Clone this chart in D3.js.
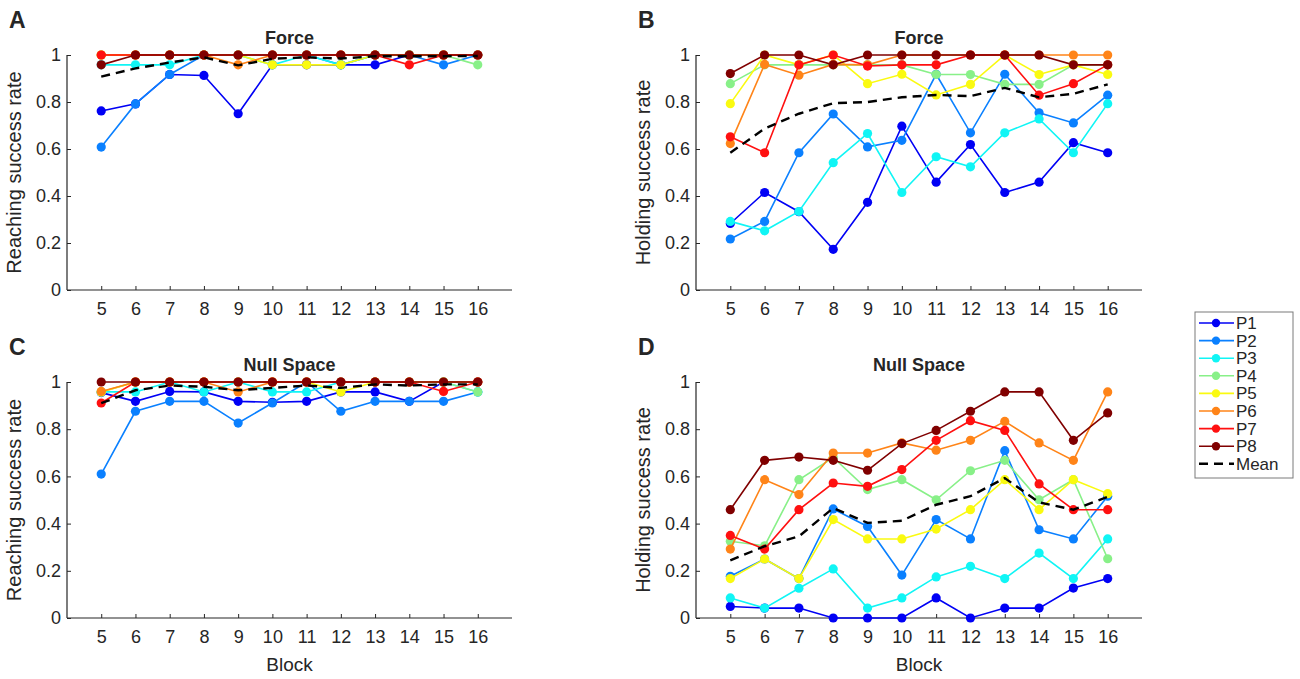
<!DOCTYPE html>
<html><head><meta charset="utf-8">
<script src="https://cdn.jsdelivr.net/npm/d3@7"></script>
<style>body{margin:0;background:#fff}svg{display:block}text{font-family:"Liberation Sans",Arial,sans-serif;fill:#262626}</style>
</head><body><svg id="c" width="1300" height="679"></svg>
<script>
const blocks = [5,6,7,8,9,10,11,12,13,14,15,16];
const participants = ["P1","P2","P3","P4","P5","P6","P7","P8"];
const colors = ["#0000f5","#0a80ff","#10f5f5","#88f088","#fafa10","#ff8418","#ff1010","#800000"];
const yTicks = [0,0.2,0.4,0.6,0.8,1];
const yTickLabels = ["0","0.2","0.4","0.6","0.8","1"];

// Panel A: Force, reaching
const reachForce = [
  [0.762,0.792,0.917,0.913,0.75,0.958,0.958,0.958,0.958,1,1,1],
  [0.608,0.792,0.917,1,1,1,1,0.958,1,1,0.958,1],
  [0.958,0.958,0.958,1,1,0.958,1,0.958,1,1,1,1],
  [1,1,1,1,1,1,1,1,1,1,1,0.958],
  [1,1,1,1,1,0.958,0.958,0.958,1,1,1,1],
  [1,1,1,1,0.958,1,1,1,1,1,1,1],
  [1,1,1,1,1,1,1,1,1,0.958,1,1],
  [0.958,1,1,1,1,1,1,1,1,1,1,1]
];
const reachForceMean = [0.908,0.943,0.968,0.99,0.956,0.984,0.99,0.985,0.995,0.995,0.995,0.996];

// Panel B: Force, holding
const holdForce = [
  [0.283,0.415,0.333,0.173,0.373,0.697,0.459,0.619,0.415,0.459,0.627,0.584],
  [0.217,0.292,0.584,0.749,0.609,0.637,0.918,0.669,0.918,0.754,0.711,0.829],
  [0.292,0.252,0.334,0.542,0.666,0.415,0.567,0.524,0.669,0.728,0.584,0.793],
  [0.878,0.958,0.958,0.958,0.958,0.958,0.917,0.917,0.875,0.875,0.958,0.958],
  [0.793,1,0.958,1,0.878,0.918,0.83,0.875,1,0.917,0.958,0.917],
  [0.623,0.96,0.914,0.96,0.958,1,1,1,1,1,1,1],
  [0.652,0.584,0.958,1,0.953,0.958,0.958,1,1,0.829,0.878,0.958],
  [0.921,1,1,0.958,1,1,1,1,1,1,0.958,0.958]
];
const holdForceMean = [0.584,0.687,0.75,0.795,0.8,0.82,0.83,0.825,0.86,0.82,0.835,0.875];

// Panel C: Null Space, reaching
const reachNull = [
  [0.955,0.918,0.96,0.958,0.918,0.914,0.918,0.958,0.958,0.918,1,1],
  [0.61,0.876,0.918,0.918,0.826,0.911,1,0.876,0.918,0.918,0.918,0.958],
  [0.958,0.958,1,0.958,1,0.958,0.958,1,1,1,1,0.958],
  [0.958,1,1,1,1,1,1,1,1,1,1,0.958],
  [0.958,1,1,1,1,1,1,0.958,1,1,1,1],
  [0.96,1,1,1,0.958,1,1,1,1,1,1,1],
  [0.911,1,1,1,1,1,1,1,1,1,0.96,1],
  [1,1,1,1,1,1,1,1,1,1,1,1]
];
const reachNullMean = [0.91,0.965,0.985,0.98,0.965,0.975,0.985,0.975,0.99,0.985,0.99,0.99];

// Panel D: Null Space, holding
const holdNull = [
  [0.049,0.042,0.042,0,0,0,0.085,0,0.042,0.042,0.127,0.167],
  [0.177,0.25,0.167,0.462,0.388,0.182,0.417,0.335,0.709,0.374,0.335,0.516],
  [0.085,0.042,0.126,0.208,0.042,0.085,0.174,0.219,0.167,0.275,0.167,0.335],
  [0.325,0.306,0.586,0.68,0.544,0.586,0.501,0.624,0.668,0.501,0.586,0.251],
  [0.167,0.25,0.167,0.417,0.335,0.335,0.377,0.459,0.586,0.459,0.586,0.527],
  [0.292,0.586,0.523,0.699,0.699,0.742,0.711,0.753,0.833,0.742,0.668,0.958],
  [0.35,0.292,0.459,0.572,0.558,0.629,0.753,0.836,0.795,0.568,0.459,0.459],
  [0.459,0.668,0.682,0.668,0.626,0.739,0.795,0.876,0.958,0.958,0.753,0.869]
];
const holdNullMean = [0.244,0.304,0.346,0.466,0.403,0.412,0.48,0.516,0.593,0.49,0.459,0.513];

const panels = [
  {letter:"A", title:"Force", ylab:"Reaching success rate", data:reachForce, mean:reachForceMean, x0:67, x1:512, yT:55, yB:290, xlab:false},
  {letter:"B", title:"Force", ylab:"Holding success rate", data:holdForce, mean:holdForceMean, x0:696, x1:1142, yT:55, yB:290, xlab:false},
  {letter:"C", title:"Null Space", ylab:"Reaching success rate", data:reachNull, mean:reachNullMean, x0:67, x1:512, yT:382, yB:618, xlab:true},
  {letter:"D", title:"Null Space", ylab:"Holding success rate", data:holdNull, mean:holdNullMean, x0:696, x1:1142, yT:382, yB:618, xlab:true}
];

const svg = d3.select("#c");
const axisCol = "#262626";

panels.forEach(p => {
  const x = d3.scaleLinear().domain([4,17]).range([p.x0,p.x1]);
  const y = d3.scaleLinear().domain([0,1]).range([p.yB,p.yT]);
  const g = svg.append("g");

  const xa = g.append("g").attr("transform",`translate(0,${p.yB})`)
    .call(d3.axisBottom(x).tickValues(blocks).tickSize(-4).tickPadding(12).tickFormat(d3.format("d")));
  const ya = g.append("g").attr("transform",`translate(${p.x0},0)`)
    .call(d3.axisLeft(y).tickValues(yTicks).tickSize(-4).tickPadding(6).tickFormat((d,i)=>yTickLabels[i]));
  [xa,ya].forEach(a=>{
    a.select(".domain").attr("stroke",axisCol).attr("stroke-width",1.2);
    a.selectAll(".tick line").attr("stroke",axisCol).attr("stroke-width",1);
    a.selectAll(".tick text").attr("fill",axisCol).style("font-size","18px").style("font-family","'Liberation Sans',Arial,sans-serif");
  });
  xa.select(".domain").attr("d",`M${p.x0},0H${p.x1}`);
  ya.select(".domain").attr("d",`M0,${p.yB}V${p.yT}`);

  const line = d3.line().x((d,i)=>x(blocks[i])).y(d=>y(d));
  p.data.forEach((s,k)=>{
    g.append("path").datum(s).attr("d",line).attr("fill","none")
      .attr("stroke",colors[k]).attr("stroke-width",1.6);
    g.selectAll(null).data(s).enter().append("circle")
      .attr("cx",(d,i)=>x(blocks[i])).attr("cy",d=>y(d)).attr("r",4.6)
      .attr("fill",colors[k]);
  });
  g.append("path").datum(p.mean).attr("d",line).attr("fill","none")
    .attr("stroke","#000").attr("stroke-width",2.4).attr("stroke-dasharray","9,6");

  g.append("text").attr("x",(p.x0+p.x1)/2).attr("y",p.yT-11).attr("text-anchor","middle")
    .style("font-size","18px").style("font-weight","bold").attr("fill","#000").text(p.title);
  g.append("text").attr("transform",`translate(${p.x0-46},${(p.yT+p.yB)/2}) rotate(-90)`)
    .attr("text-anchor","middle").style("font-size","20px").text(p.ylab);
  g.append("text").attr("x",p.x0-58).attr("y",p.yT-27).style("font-size","23px")
    .style("font-weight","bold").attr("fill","#000").text(p.letter);
  if (p.xlab) g.append("text").attr("x",(p.x0+p.x1)/2).attr("y",p.yB+53).attr("text-anchor","middle")
    .style("font-size","19px").text("Block");
});

// legend
const legNames = participants.concat(["Mean"]);
const lg = svg.append("g");
const lx = 1195, ly = 312, lw = 98, lh = 166, step = 17.6;
lg.append("rect").attr("x",lx).attr("y",ly).attr("width",lw).attr("height",lh)
  .attr("fill","#fff").attr("stroke","#7a7a7a").attr("stroke-width",1);
legNames.forEach((n,i)=>{
  const cy = ly+11+i*step;
  if (i<8) {
    lg.append("line").attr("x1",lx+4).attr("x2",lx+39).attr("y1",cy).attr("y2",cy)
      .attr("stroke",colors[i]).attr("stroke-width",1.6);
    lg.append("circle").attr("cx",lx+21).attr("cy",cy).attr("r",4.2).attr("fill",colors[i]);
  } else {
    lg.append("line").attr("x1",lx+4).attr("x2",lx+39).attr("y1",cy).attr("y2",cy)
      .attr("stroke","#000").attr("stroke-width",2.4).attr("stroke-dasharray","9,6");
  }
  lg.append("text").attr("x",lx+41).attr("y",cy+6).style("font-size","17px").attr("fill","#000").text(n);
});
</script></body></html>
